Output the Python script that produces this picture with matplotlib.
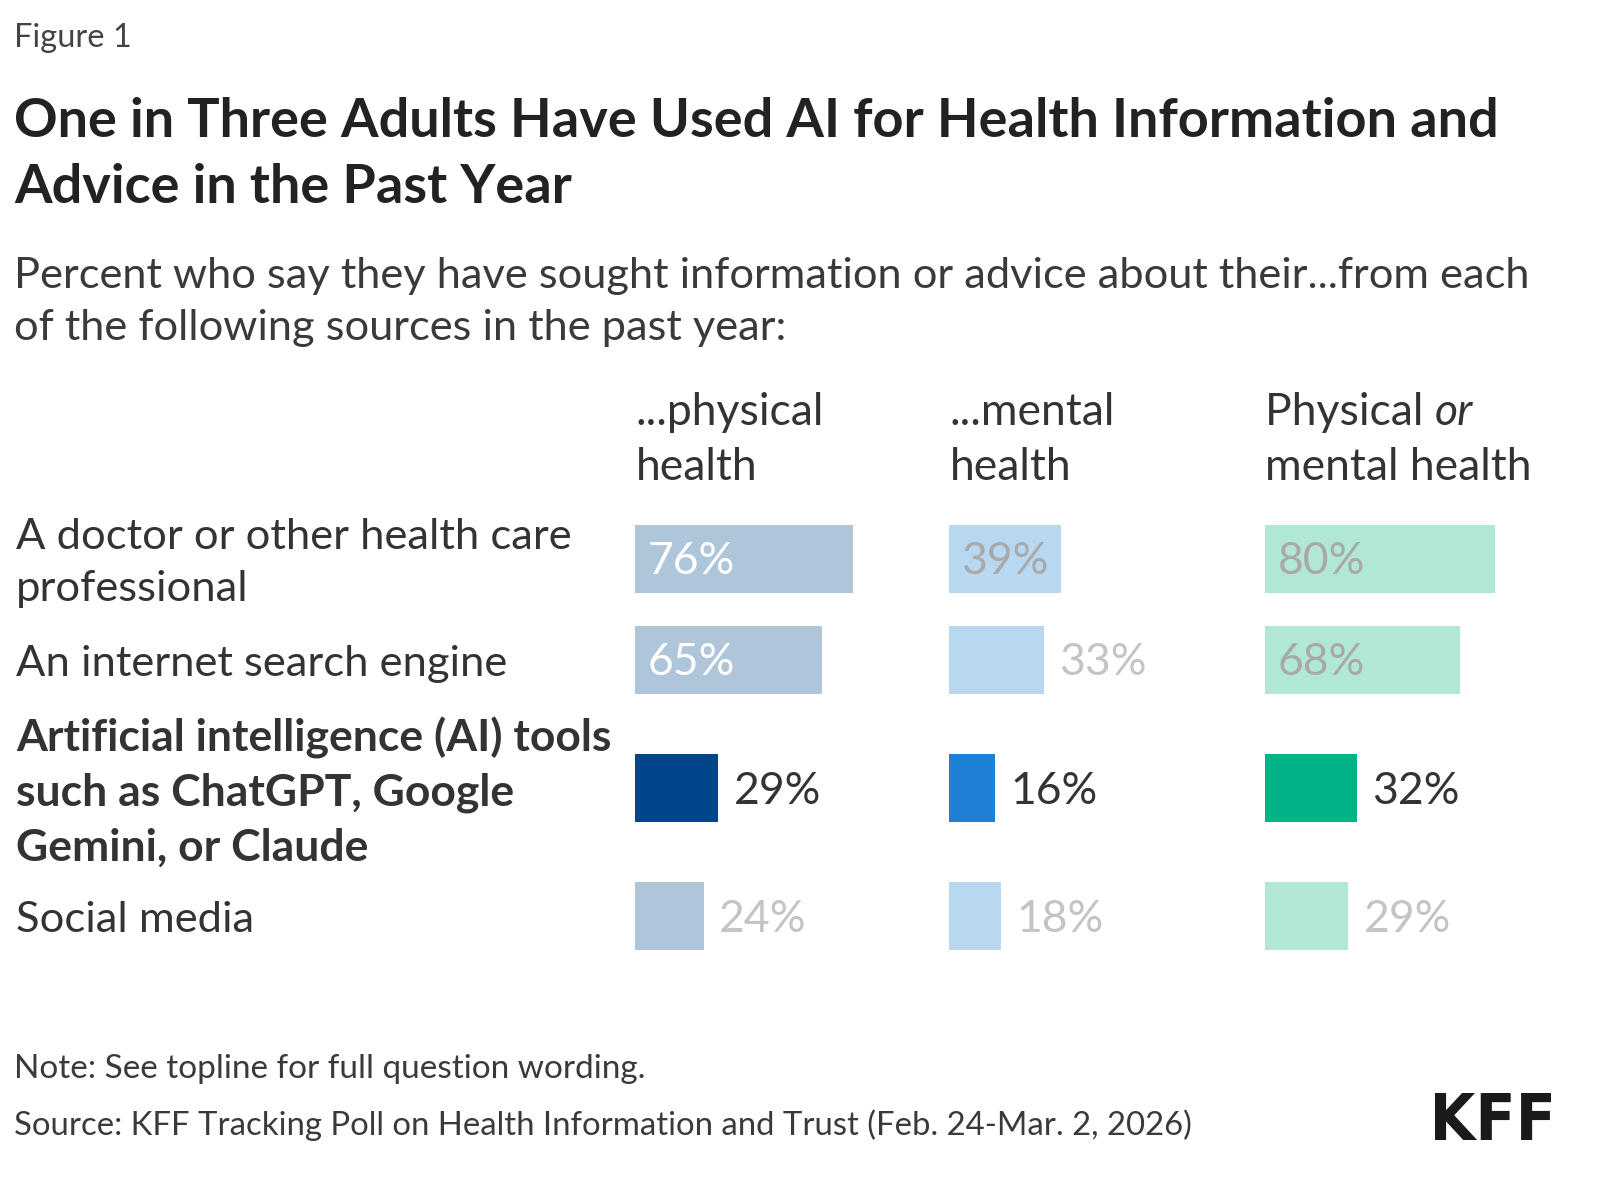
import matplotlib
matplotlib.use("Agg")
from matplotlib import pyplot as plt
from matplotlib.textpath import TextPath
from matplotlib.patches import PathPatch
from matplotlib.font_manager import FontProperties
from matplotlib.transforms import Affine2D, IdentityTransform

plt.rcParams['font.family'] = ['Lato', 'DejaVu Sans']

# data
sources = [
    "A doctor or other health care\nprofessional",
    "An internet search engine",
    "Artificial intelligence (AI) tools\nsuch as ChatGPT, Google\nGemini, or Claude",
    "Social media",
]
highlight = [False, False, True, False]
physical = [76, 65, 29, 24]
mental = [39, 33, 16, 18]
either = [80, 68, 32, 29]

# layout (pixels on a 1600x1181 canvas)
W, H = 1600, 1181
row_y = [559, 660, 788, 916]
bar_h = 68
panel_left = [635, 949, 1265]
panel_w = 287   # width of 100%

panels = [
    (physical, "#afc6da", "#00468b", "white"),
    (mental, "#b8d8f2", "#1d80d6", "#a9a9a9"),
    (either, "#b1e7d7", "#00b488", "#a9a9a9"),
]

fig = plt.figure(figsize=(W / 100, H / 100), dpi=100)


def px(x, y):
    return x / W, 1 - y / H


def ftext(x, y, s, **kw):
    fx, fy = px(x, y)
    kw.setdefault("va", "baseline")
    return fig.text(fx, fy, s, **kw)


dark = "#333333"
sub = "#3a3a3a"

ftext(14, 47, "Figure 1", fontsize=23.5, color="#444444")
ftext(14, 137, "One in Three Adults Have Used AI for Health Information and",
      fontsize=39, fontweight="bold", color="#222222")
ftext(14, 203, "Advice in the Past Year", fontsize=39, fontweight="bold", color="#222222")
ftext(14, 288, "Percent who say they have sought information or advice about their...from each",
      fontsize=31.2, color=sub)
ftext(14, 340, "of the following sources in the past year:", fontsize=31.2, color=sub)

# column headers
hs = 32
ftext(636, 425, "...physical", fontsize=hs, color=dark)
ftext(636, 480, "health", fontsize=hs, color=dark)
ftext(950, 425, "...mental", fontsize=hs, color=dark)
ftext(950, 480, "health", fontsize=hs, color=dark)
t = ftext(1265, 425, "Physical ", fontsize=hs, color=dark)
fig.canvas.draw()
bb = t.get_window_extent()
fig.text(bb.x1 / W, 1 - 425 / H, "or", fontsize=hs, color=dark, va="baseline", style="italic")
ftext(1265, 480, "mental health", fontsize=hs, color=dark)

# row labels
for lab, y, hi in zip(sources, row_y, highlight):
    fx, fy = px(16, y + 4)
    fig.text(fx, fy, lab, fontsize=32 if hi else 31.3, color=dark, va="center", ha="left",
             fontweight="bold" if hi else "normal", linespacing=1.42)

# bar panels
for (vals, light, strong, inside_col), left in zip(panels, panel_left):
    ax = fig.add_axes([left / W, 1 - 980 / H, panel_w / W, 490 / H])
    ax.set_xlim(0, 100)
    ax.set_ylim(980, 490)
    ax.axis("off")
    cols = [strong if h else light for h in highlight]
    ax.barh(row_y, vals, height=bar_h, color=cols)
    for v, y, h in zip(vals, row_y, highlight):
        lab = "%d%%" % v
        if h:
            ax.annotate(lab, (v, y + 3), xytext=(11, 0), textcoords="offset points",
                        va="center", ha="left", fontsize=32, color=dark)
        elif v >= 35:
            ax.annotate(lab, (0, y + 3), xytext=(9, 0), textcoords="offset points",
                        va="center", ha="left", fontsize=32, color=inside_col)
        else:
            ax.annotate(lab, (v, y + 3), xytext=(11, 0), textcoords="offset points",
                        va="center", ha="left", fontsize=32, color="#c4c4c4")

ftext(14, 1078, "Note: See topline for full question wording.", fontsize=24, color=sub)
ftext(14, 1135, "Source: KFF Tracking Poll on Health Information and Trust (Feb. 24-Mar. 2, 2026)",
      fontsize=23.7, color=sub)

# KFF logo, squeezed into its box
tp = TextPath((0, 0), "KFF", size=100, prop=FontProperties(family="DejaVu Sans", weight="bold"))
ext = tp.get_extents()
lx0, ly0, lx1, ly1 = 1435, 1093, 1551, 1140
tr = (Affine2D().translate(-ext.x0, -ext.y0)
      .scale((lx1 - lx0) / ext.width, (ly1 - ly0) / ext.height)
      .translate(lx0, H - ly1))
fig.patches.append(PathPatch(tr.transform_path(tp), transform=IdentityTransform(),
                             facecolor="#1a1a1a", edgecolor="none", figure=fig))

fig.savefig("out.png", dpi=100)
